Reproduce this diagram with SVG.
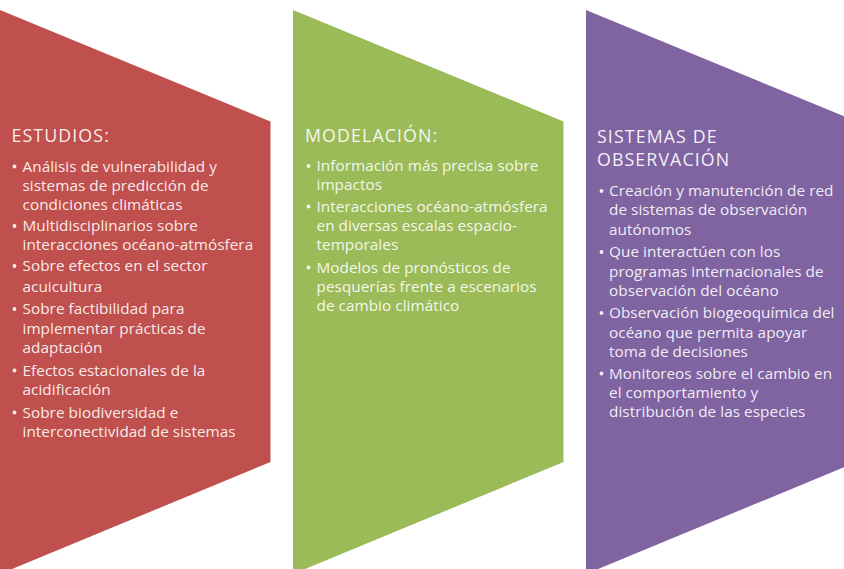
<svg xmlns="http://www.w3.org/2000/svg" width="844" height="569" viewBox="0 0 844 569">
<style>
.h{font-family:"Open Sans","Liberation Sans",sans-serif;font-size:17.8px;fill:#fff;fill-opacity:0.92;letter-spacing:1.1px}
.t{font-family:"Open Sans","Liberation Sans",sans-serif;font-size:15.3px;fill:#fff;fill-opacity:0.9;letter-spacing:0.05px}
.d{fill:#fff;fill-opacity:0.9}
</style>
<rect width="844" height="569" fill="#fff"/>
<g id="estudios">
<polygon points="0,10 270.5,121.5 270.5,462 0,574" fill="#C0504D"/>
<text class="h" x="11.5" y="142">ESTUDIOS:</text>
<g class="d"><circle cx="14.5" cy="166.5" r="1.9"/><circle cx="14.5" cy="226" r="1.9"/><circle cx="14.5" cy="266" r="1.9"/><circle cx="14.5" cy="309" r="1.9"/><circle cx="14.5" cy="370.5" r="1.9"/><circle cx="14.5" cy="412.5" r="1.9"/></g>
<text class="t" x="22.5" y="171.5">Análisis de vulnerabilidad y</text>
<text class="t" x="22.5" y="190.5">sistemas de predicción de</text>
<text class="t" x="22.5" y="210">condiciones climáticas</text>
<text class="t" x="22.5" y="231">Multidisciplinarios sobre</text>
<text class="t" x="22.5" y="250">interacciones océano-atmósfera</text>
<text class="t" x="22.5" y="271">Sobre efectos en el sector</text>
<text class="t" x="22.5" y="291.5">acuicultura</text>
<text class="t" x="22.5" y="314">Sobre factibilidad para</text>
<text class="t" x="22.5" y="333.5">implementar prácticas de</text>
<text class="t" x="22.5" y="352.5">adaptación</text>
<text class="t" x="22.5" y="375.5">Efectos estacionales de la</text>
<text class="t" x="22.5" y="395">acidificación</text>
<text class="t" x="22.5" y="417.5">Sobre biodiversidad e</text>
<text class="t" x="22.5" y="436.5">interconectividad de sistemas</text>
</g>
<g id="modelacion">
<polygon points="293,10 563.5,121.5 563.5,462 293,574" fill="#9BBB59"/>
<text class="h" x="305" y="142">MODELACIÓN:</text>
<g class="d"><circle cx="308.5" cy="166" r="1.9"/><circle cx="308.5" cy="206.5" r="1.9"/><circle cx="308.5" cy="267.5" r="1.9"/></g>
<text class="t" x="316.5" y="171">Información más precisa sobre</text>
<text class="t" x="316.5" y="190">impactos</text>
<text class="t" x="316.5" y="211.5">Interacciones océano-atmósfera</text>
<text class="t" x="316.5" y="231">en diversas escalas espacio-</text>
<text class="t" x="316.5" y="250">temporales</text>
<text class="t" x="316.5" y="272.5">Modelos de pronósticos de</text>
<text class="t" x="316.5" y="291.5">pesquerías frente a escenarios</text>
<text class="t" x="316.5" y="310.5">de cambio climático</text>
</g>
<g id="observacion">
<polygon points="586,10 856.5,121.5 856.5,462 586,574" fill="#8064A2"/>
<text class="h" x="597" y="142.5">SISTEMAS DE</text>
<text class="h" x="597" y="166">OBSERVACIÓN</text>
<g class="d"><circle cx="601.5" cy="191" r="1.9"/><circle cx="601.5" cy="252" r="1.9"/><circle cx="601.5" cy="313" r="1.9"/><circle cx="601.5" cy="373.5" r="1.9"/></g>
<text class="t" x="609" y="196">Creación y manutención de red</text>
<text class="t" x="609" y="215">de sistemas de observación</text>
<text class="t" x="609" y="234.5">autónomos</text>
<text class="t" x="609" y="257">Que interactúen con los</text>
<text class="t" x="609" y="276.5">programas internacionales de</text>
<text class="t" x="609" y="295.5">observación del océano</text>
<text class="t" x="609" y="318">Observación biogeoquímica del</text>
<text class="t" x="609" y="337.5">océano que permita apoyar</text>
<text class="t" x="609" y="356.5">toma de decisiones</text>
<text class="t" x="609" y="378.5">Monitoreos sobre el cambio en</text>
<text class="t" x="609" y="398">el comportamiento y</text>
<text class="t" x="609" y="417">distribución de las especies</text>
</g>
</svg>
